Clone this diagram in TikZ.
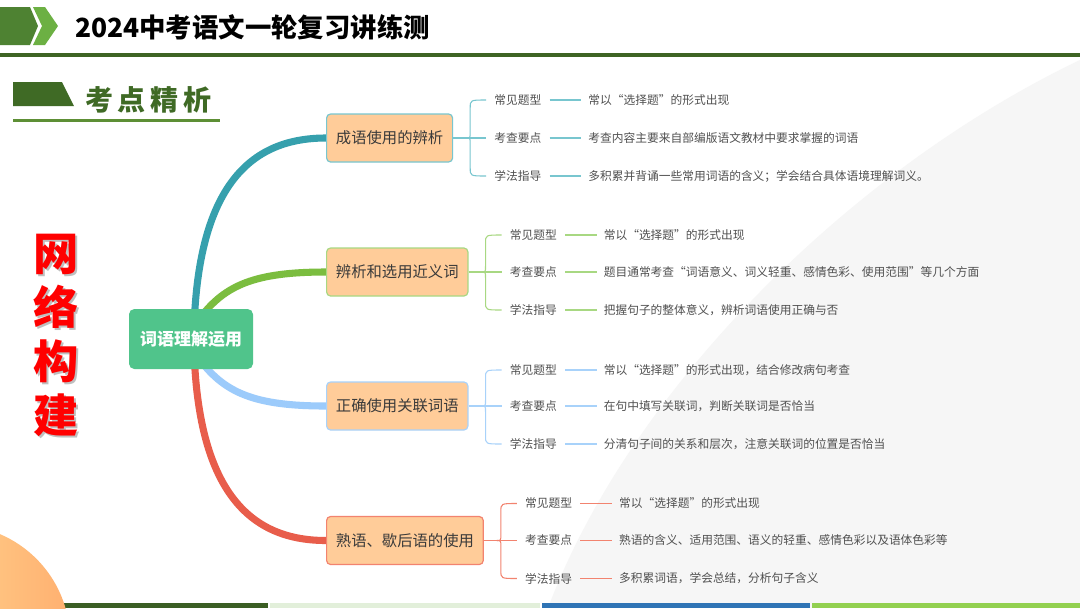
\documentclass[tikz,border=0pt]{standalone}
\usepackage{fontspec}
\setmainfont{Noto Sans CJK SC}
\usetikzlibrary{calc}
\definecolor{hdark}{HTML}{4E8232}
\definecolor{hlight}{HTML}{6CB043}
\definecolor{hline}{HTML}{3E6424}
\definecolor{kdark}{HTML}{3F6A25}
\definecolor{kline}{HTML}{5D8F35}
\definecolor{centerG}{HTML}{50C48B}
\definecolor{peach}{HTML}{FFCC99}
\definecolor{nodetxt}{HTML}{3A3A3A}
\definecolor{leaftxt}{HTML}{505050}
\definecolor{tealA}{HTML}{36A0AD}
\definecolor{tealB}{HTML}{78C6CF}
\definecolor{greenA}{HTML}{7BBD3F}
\definecolor{greenB}{HTML}{A8D882}
\definecolor{blueA}{HTML}{9CCBFB}
\definecolor{blueB}{HTML}{A8D2FA}
\definecolor{redA}{HTML}{E85D4B}
\definecolor{redB}{HTML}{F2836F}
\definecolor{bggrey}{HTML}{F6F6F6}
\definecolor{sDark}{HTML}{3B5E24}
\definecolor{sLight}{HTML}{E2EFDA}
\definecolor{sBlue}{HTML}{2F74B5}
\definecolor{sGreen}{HTML}{92D050}
\definecolor{circY}{HTML}{FFE8A0}
\definecolor{circO}{HTML}{FFB070}
\pgfdeclarelayer{bgr}
\pgfdeclarelayer{limbs}
\pgfsetlayers{bgr,limbs,main}
\newcommand\mybrace[5]{%
  \draw[brc=#3] ($(#1.east)+(13,0)$) .. controls ($(#1.east)+(17,0)$) and ($(#1.east)+(17,0)$) .. ($(#1.east)+(17,#4)$)
    -- ($(#1.east |- #2.west)+(17,#5)$) .. controls ($(#1.east |- #2.west)+(17,0)$) and ($(#1.east |- #2.west)+(17,0)$) .. (#2.west);}
\begin{document}
\begin{tikzpicture}[x=0.75pt,y=-0.75pt,
  branch/.style={draw=#1, line width=0.9pt, fill=peach, rounded corners=3pt, anchor=west,
    minimum height=36pt, inner xsep=7pt, inner ysep=0pt, text=nodetxt, font=\fontsize{11.5}{13}\selectfont},
  lbl/.style={anchor=west, inner xsep=6pt, inner ysep=1pt, text=leaftxt, font=\fontsize{8.8}{10}\selectfont},
  val/.style={anchor=west, inner xsep=5.25pt, inner ysep=1pt, text=leaftxt, font=\fontsize{8.8}{10}\selectfont},
  brc/.style={draw=#1, line width=0.8pt},
  limb/.style={draw=#1, line width=5.3pt}]
\useasboundingbox (0,0) rectangle (1080,608);
\begin{pgfonlayer}{bgr}
\begin{scope}
\clip (0,0) rectangle (1080,608);
\fill[white] (0,0) rectangle (1080,608);
\fill[bggrey] (1080,60) .. controls (850,170) and (630,390) .. (548,608) -- (1080,608) -- cycle;
\fill[sDark] (0,603) rectangle (268,608);
\fill[sLight] (270,603) rectangle (540,608);
\fill[sBlue] (542,603) rectangle (810,608);
\fill[sGreen] (812,603) rectangle (1080,608);
\shade[left color=circY, right color=circO] (-45,640) circle[radius=86.25pt];
\end{scope}
% header
\fill[hdark] (0,7) -- (30,7) -- (38,26) -- (30,45) -- (0,45) -- cycle;
\fill[hlight] (33,7) -- (45,7) -- (58,26) -- (45,45) -- (33,45) -- (42,26) -- cycle;
\fill[hline] (0,53) rectangle (1080,57);
\fill[kdark] (13,82) -- (62,82) -- (74,106) -- (13,106) -- cycle;
\fill[kline] (13,118.5) rectangle (220,121.5);
\end{pgfonlayer}

\node[anchor=west, inner sep=0pt, font=\fontsize{19.8}{21}\bfseries] (title) at (75,27) {2024中考语文一轮复习讲练测};
\node[inner sep=0pt, text=kdark, font=\fontsize{21}{23}\bfseries] (kd) at (148.5,100) {考\hspace{3.75pt}点\hspace{3.75pt}精\hspace{3.75pt}析};

\node[inner sep=0pt, text=black!45, opacity=0.55, align=center, font=\fontsize{34}{40.5}\bfseries] (wshadow) at (58,337) {网\\络\\构\\建};
\node[inner sep=0pt, text=red, align=center, font=\fontsize{34}{40.5}\bfseries] (wl) at (56,335) {网\\络\\构\\建};

% centre
\node[fill=centerG, rounded corners=4pt, minimum width=93pt, minimum height=45pt, inner sep=0pt,
  text=white, font=\fontsize{12.75}{14}\bfseries] (c) at (191,339) {词语理解运用};

% branch nodes
\node[branch=tealB] (n1) at (326,138) {成语使用的辨析};
\node[branch=greenB] (n2) at (326,272) {辨析和选用近义词};
\node[branch=blueB] (n3) at (326,406) {正确使用关联词语};
\node[branch=redB] (n4) at (326,540.5) {熟语、歇后语的使用};

\coordinate (r1) at (194,330);
\coordinate (r2) at (200,318);
\coordinate (r3) at (200,360);
\coordinate (r4) at (194,348);
\begin{pgfonlayer}{limbs}
\draw[limb=tealA] (r1) .. controls (198,180) and (255,138) .. (n1.west);
\draw[limb=greenA] (r2) .. controls (225,285) and (255,272) .. (n2.west);
\draw[limb=blueA] (r3) .. controls (225,393) and (255,406) .. (n3.west);
\draw[limb=redA] (r4) .. controls (198,498) and (255,540.5) .. (n4.west);
\end{pgfonlayer}

% leaves branch 1
\node[lbl] (n1a) at ($(n1.east)+(33,-38)$) {常见题型};
\node[lbl] (n1b) at ($(n1.east)+(33,0)$) {考查要点};
\node[lbl] (n1c) at ($(n1.east)+(33,38)$) {学法指导};
\node[val] (n1av) at ($(n1.east)+(128,-38)$) {常以“选择题”的形式出现};
\node[val] (n1bv) at ($(n1.east)+(128,0)$) {考查内容主要来自部编版语文教材中要求掌握的词语};
\node[val] (n1cv) at ($(n1.east)+(128,38)$) {多积累并背诵一些常用词语的含义；学会结合具体语境理解词义。};
\mybrace{n1}{n1a}{tealB}{-6}{8}
\mybrace{n1}{n1c}{tealB}{6}{-8}
\draw[brc=tealB] (n1.east) -- (n1b.west);
\draw[brc=tealB] (n1a.east) -- (n1av.west);
\draw[brc=tealB] (n1b.east) -- (n1bv.west);
\draw[brc=tealB] (n1c.east) -- (n1cv.west);

% leaves branch 2
\node[lbl] (n2a) at ($(n2.east)+(33,-37)$) {常见题型};
\node[lbl] (n2b) at ($(n2.east)+(33,0)$) {考查要点};
\node[lbl] (n2c) at ($(n2.east)+(33,38)$) {学法指导};
\node[val] (n2av) at ($(n2.east)+(128,-37)$) {常以“选择题”的形式出现};
\node[val] (n2bv) at ($(n2.east)+(128,0)$) {题目通常考查“词语意义、词义轻重、感情色彩、使用范围”等几个方面};
\node[val] (n2cv) at ($(n2.east)+(128,38)$) {把握句子的整体意义，辨析词语使用正确与否};
\mybrace{n2}{n2a}{greenB}{-6}{8}
\mybrace{n2}{n2c}{greenB}{6}{-8}
\draw[brc=greenB] (n2.east) -- (n2b.west);
\draw[brc=greenB] (n2a.east) -- (n2av.west);
\draw[brc=greenB] (n2b.east) -- (n2bv.west);
\draw[brc=greenB] (n2c.east) -- (n2cv.west);

% leaves branch 3
\node[lbl] (n3a) at ($(n3.east)+(33,-36)$) {常见题型};
\node[lbl] (n3b) at ($(n3.east)+(33,0)$) {考查要点};
\node[lbl] (n3c) at ($(n3.east)+(33,38)$) {学法指导};
\node[val] (n3av) at ($(n3.east)+(128,-36)$) {常以“选择题”的形式出现，结合修改病句考查};
\node[val] (n3bv) at ($(n3.east)+(128,0)$) {在句中填写关联词，判断关联词是否恰当};
\node[val] (n3cv) at ($(n3.east)+(128,38)$) {分清句子间的关系和层次，注意关联词的位置是否恰当};
\mybrace{n3}{n3a}{blueB}{-6}{8}
\mybrace{n3}{n3c}{blueB}{6}{-8}
\draw[brc=blueB] (n3.east) -- (n3b.west);
\draw[brc=blueB] (n3a.east) -- (n3av.west);
\draw[brc=blueB] (n3b.east) -- (n3bv.west);
\draw[brc=blueB] (n3c.east) -- (n3cv.west);

% leaves branch 4
\node[lbl] (n4a) at ($(n4.east)+(33,-37)$) {常见题型};
\node[lbl] (n4b) at ($(n4.east)+(33,0)$) {考查要点};
\node[lbl] (n4c) at ($(n4.east)+(33,38)$) {学法指导};
\node[val] (n4av) at ($(n4.east)+(128,-37)$) {常以“选择题”的形式出现};
\node[val] (n4bv) at ($(n4.east)+(128,0)$) {熟语的含义、适用范围、语义的轻重、感情色彩以及语体色彩等};
\node[val] (n4cv) at ($(n4.east)+(128,38)$) {多积累词语，学会总结，分析句子含义};
\mybrace{n4}{n4a}{redB}{-6}{8}
\mybrace{n4}{n4c}{redB}{6}{-8}
\draw[brc=redB] (n4.east) -- (n4b.west);
\draw[brc=redB] (n4a.east) -- (n4av.west);
\draw[brc=redB] (n4b.east) -- (n4bv.west);
\draw[brc=redB] (n4c.east) -- (n4cv.west);
\end{tikzpicture}
\end{document}
